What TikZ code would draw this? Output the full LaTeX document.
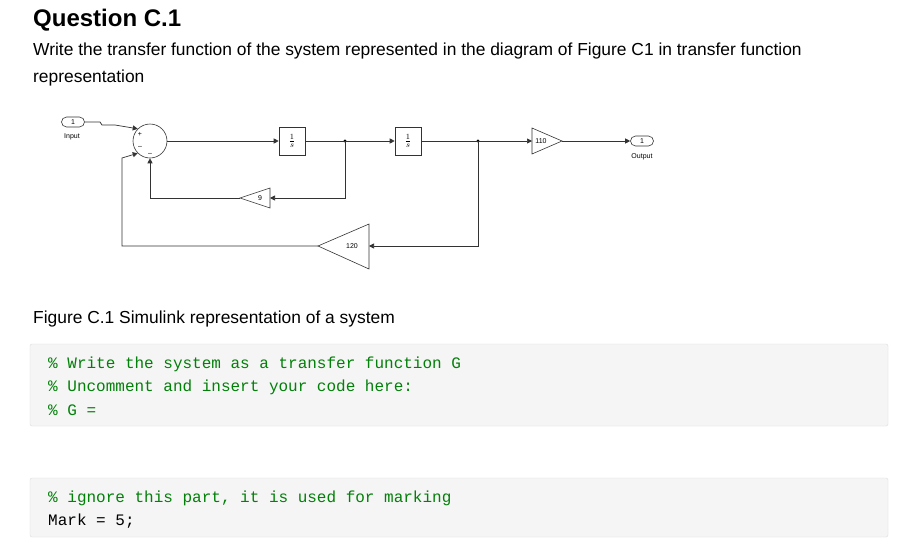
\documentclass[tikz,border=0pt]{standalone}
\usepackage{fontspec}
\setmainfont{Liberation Sans}
\newfontfamily\codefont{Liberation Mono}
\usetikzlibrary{arrows.meta}
\definecolor{cgreen}{RGB}{2,128,9}
\definecolor{cbg}{RGB}{245,245,245}
\definecolor{cbd}{RGB}{221,221,221}
\begin{document}
\begin{tikzpicture}[x=1pt,y=-1pt,
  sig/.style={draw=black!80,line width=0.7pt,-{Triangle[length=5pt,width=5pt]}},
  wire/.style={draw=black!80,line width=0.7pt},
  blk/.style={draw=black!80,line width=0.6pt,fill=white},
  port/.style={draw=black!80,line width=0.6pt,rounded corners=5pt,fill=white,minimum width=23pt,minimum height=10pt,inner sep=0pt,font=\fontsize{7}{8}\selectfont},
  small/.style={font=\fontsize{7}{8}\selectfont},
  body/.style={font=\fontsize{17.4}{20}\selectfont,anchor=west,inner sep=0pt},
  code/.style={font=\codefont\fontsize{16}{20}\selectfont,anchor=west,inner sep=0pt,text=cgreen},
  codebox/.style={draw=cbd,fill=cbg,rounded corners=2pt}]
\useasboundingbox (0,0) rectangle (900,544);
\fill[white] (0,0) rectangle (900,544);
\node[body,font=\bfseries\fontsize{24}{28}\selectfont] (title) at (33,20) {Question C.1};
\node[body] (l1) at (33,51) {Write the transfer function of the system represented in the diagram of Figure C1 in transfer function};
\node[body] (l2) at (33,78) {representation};
% diagram
\node[port] (in) at (73,122) {1};
\node[small] (inl) at (72,137) {Input};
\node[circle,blk,minimum size=34pt,inner sep=0pt] (sum) at (150,141) {};
\node[small] at (140,134) {+};
\node[small] at (140,147) {--};
\node[small] at (150,154) {--};
\node[blk,minimum width=26pt,minimum height=28pt,inner sep=0pt,font=\fontsize{11}{12}\selectfont] (i1) at (292,141) {$\frac{1}{s}$};
\node[blk,minimum width=26pt,minimum height=28pt,inner sep=0pt,font=\fontsize{11}{12}\selectfont] (i2) at (408,141) {$\frac{1}{s}$};
\coordinate (d1) at (345,141);
\coordinate (d2) at (478,141);
\fill (d1) circle (1.6pt);
\fill (d2) circle (1.6pt);
\draw[blk] (532,128) -- (562,141) -- (532,154) -- cycle;
\coordinate (g110in) at (532,141);
\coordinate (g110out) at (562,141);
\node[small] at (541,141) {110};
\node[port] (out) at (642,141) {1};
\node[small] (outl) at (642,157) {Output};
\draw[blk] (270,188) -- (240,198) -- (270,208) -- cycle;
\coordinate (g9in) at (270,198);
\coordinate (g9out) at (240,198);
\node[small] at (260,198) {9};
\draw[blk] (369,224) -- (318,246) -- (369,269) -- cycle;
\coordinate (g120in) at (369,246);
\coordinate (g120out) at (318,246);
\node[small] at (352,246) {120};
% wires
\draw[sig] (in.east) -- (100,122) -- (102,125) -- (115,125) -- (sum.135);
\draw[sig] (sum.east) -- (i1.west);
\draw[wire] (i1.east) -- (d1);
\draw[sig] (d1) -- (i2.west);
\draw[wire] (i2.east) -- (d2);
\draw[sig] (d2) -- (g110in);
\draw[sig] (g110out) -- (out.west);
\draw[sig] (d1) -- (345,198) -- (g9in);
\draw[sig] (g9out) -- (150,198) -- (sum.south);
\draw[sig] (d2) -- (478,246) -- (g120in);
\draw[sig] (g120out) -- (122,246) -- (122,158) -- (sum.225);
% text below
\node[body] (cap) at (33,319) {Figure C.1 Simulink representation of a system};
\draw[codebox] (30,344) rectangle (888,426);
\node[code] at (48,364) {\% Write the system as a transfer function G};
\node[code] at (48,387) {\% Uncomment and insert your code here:};
\node[code] at (48,410) {\% G =};
\draw[codebox] (30,478) rectangle (888,537);
\node[code] at (48,498) {\% ignore this part, it is used for marking};
\node[code,text=black] at (48,521) {Mark = 5;};
\end{tikzpicture}
\end{document}
